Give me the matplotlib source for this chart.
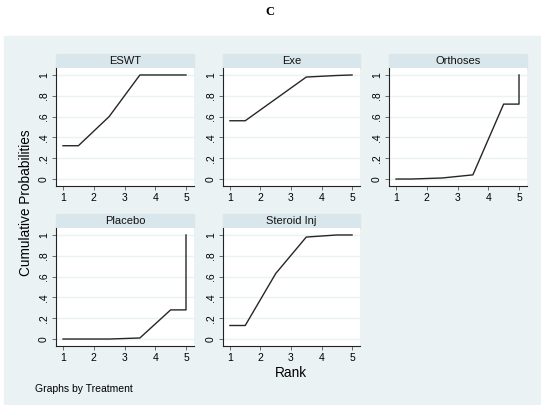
import matplotlib
matplotlib.use("Agg")
from matplotlib import pyplot as plt
from matplotlib.patches import Rectangle

plt.rcParams["font.family"] = ["Liberation Sans", "DejaVu Sans"]

W, H = 541, 405

# cumulative rank probabilities (Stata sucra style, points at mid-ranks)
rank_pos = [1, 1.5, 2.5, 3.5, 4.5, 5, 5]
treatments = ["ESWT", "Exe", "Orthoses", "Placebo", "Steroid Inj"]
eswt = [0.32, 0.32, 0.60, 1.00, 1.00, 1.00, 1.00]
exe = [0.56, 0.56, 0.77, 0.98, 0.995, 1.00, 1.00]
orthoses = [0.00, 0.00, 0.01, 0.04, 0.72, 0.72, 1.00]
placebo = [0.00, 0.00, 0.00, 0.01, 0.28, 0.28, 1.00]
steroid = [0.13, 0.13, 0.63, 0.98, 1.00, 1.00, 1.00]
series = [eswt, exe, orthoses, placebo, steroid]

x_ticks = [1, 2, 3, 4, 5]
y_ticks = [0, 0.2, 0.4, 0.6, 0.8, 1.0]
y_labels = ["0", ".2", ".4", ".6", ".8", "1"]

bg = "#eaf2f3"
strip = "#d9e6eb"
line_col = "#262626"

fig = plt.figure(figsize=(W / 100, H / 100), dpi=100)


def box(x0, y0, x1, y1):
    # pixel box (top-left origin) -> figure fraction
    return [x0 / W, 1 - y1 / H, (x1 - x0) / W, (y1 - y0) / H]


fig.patches.append(Rectangle((4 / W, 0), 1 - 4 / W, 1 - 36 / H,
                             transform=fig.transFigure, color=bg, zorder=-2))

cols = [(56, 194), (223, 360), (389, 527)]
rows = [(54, 68, 186), (214, 228, 346)]

for i, (name, vals) in enumerate(zip(treatments, series)):
    c0, c1 = cols[i % 3]
    s0, a0, a1 = rows[i // 3]
    # strip
    fig.patches.append(Rectangle((c0 / W, 1 - a0 / H), (c1 - c0) / W, (a0 - s0) / H,
                                 transform=fig.transFigure, color=strip, zorder=-1))
    fig.text((c0 + c1) / 2 / W, 1 - (s0 + a0) / 2 / H, name, ha="center", va="center",
             fontsize=8, color="#111111")
    ax = fig.add_axes(box(c0, a0, c1, a1))
    ax.set_facecolor("white")
    ax.plot(rank_pos, vals, color=line_col, lw=1.0)
    ax.set_xlim(0.772, 5.26)
    ax.set_ylim(-0.067, 1.067)
    ax.set_xticks(x_ticks)
    ax.set_yticks(y_ticks)
    ax.set_yticklabels(y_labels, rotation=90, va="center")
    ax.grid(axis="y", color=bg, lw=1.0)
    ax.set_axisbelow(True)
    for s in ["top", "right"]:
        ax.spines[s].set_visible(False)
    for s in ["left", "bottom"]:
        ax.spines[s].set_color("#222222")
        ax.spines[s].set_linewidth(0.8)
    ax.tick_params(axis="both", labelsize=7.5, length=3, width=0.6, color="#555555", pad=2)

fig.text(270 / W, 1 - 12 / H, "C", ha="center", va="center", fontsize=9,
         fontweight="bold", family="Liberation Serif")
fig.text(26 / W, 1 - 203 / H, "Cumulative Probabilities", rotation=90,
         ha="center", va="center", fontsize=9.8)
fig.text(291 / W, 1 - 373 / H, "Rank", ha="center", va="center", fontsize=9.8)
fig.text(35 / W, 1 - 389 / H, "Graphs by Treatment", ha="left", va="center", fontsize=7.5)

fig.savefig("out.png", dpi=100)
